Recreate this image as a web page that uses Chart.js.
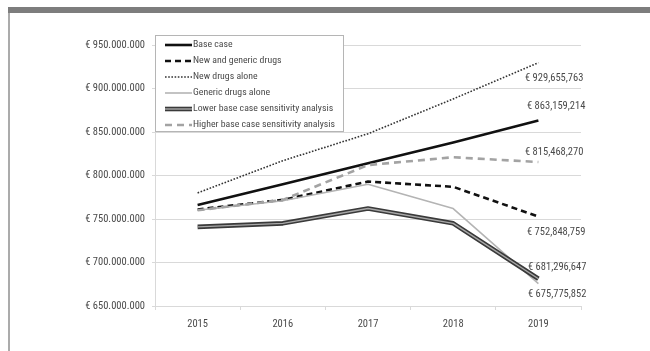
<!DOCTYPE html>
<html>
<head>
<meta charset="utf-8">
<script src="https://cdn.jsdelivr.net/npm/chart.js@4/dist/chart.umd.min.js"></script>
<style>
  html, body { margin: 0; padding: 0; background: #fff; }
  #wrap { position: relative; width: 650px; height: 351px; overflow: hidden; }
  #topbar { position: absolute; left: 8px; top: 7px; width: 642px; height: 6px; background: #7d7d7d; }
  #leftbar { position: absolute; left: 8px; top: 13px; width: 1.5px; height: 338px; background: #ababab; }
  canvas { position: absolute; left: 0; top: 0; }
</style>
</head>
<body>
<div id="wrap">
  <div id="topbar"></div>
  <div id="leftbar"></div>
  <canvas id="c" width="650" height="351"></canvas>
</div>
<script>
// Yearly projected expenditure (euros) per scenario
const years = ['2015', '2016', '2017', '2018', '2019'];
const baseCase          = [766e6, 790e6, 814e6, 838e6, 863159214];
const newAndGeneric     = [761e6, 772e6, 793e6, 787e6, 752848759];
const newDrugsAlone     = [780e6, 817e6, 848e6, 888e6, 929655763];
const genericAlone      = [760e6, 771e6, 790e6, 762e6, 675775852];
const lowerSensitivity  = [741e6, 745e6, 762e6, 745e6, 681296647];
const higherSensitivity = [760e6, 772e6, 812e6, 821e6, 815468270];

// Value axis range
const yMin = 650e6, yMax = 950e6, yStep = 50e6;

const FAMILY = "'Roboto Condensed', Roboto, sans-serif";
const STRETCH = 'condensed';
const TEXT = '#4a4a4a';
const GRID = '#d9d9d9';
const fontStr = size => STRETCH + ' normal ' + size + 'px ' + FAMILY;

function dotted(v) {
  return '€ ' + Math.round(v).toString().replace(/\B(?=(\d{3})+(?!\d))/g, '.');
}
function commas(v) {
  return '€ ' + Math.round(v).toString().replace(/\B(?=(\d{3})+(?!\d))/g, ',');
}

// endLabel: offset of the right edge of the value text from the last point
const datasets = [
  { label: 'Base case', data: baseCase, borderColor: '#111', borderWidth: 2.6,
    endLabel: { dx: 47, dy: -14 } },
  { label: 'New and generic drugs', data: newAndGeneric, borderColor: '#111', borderWidth: 2.6,
    borderDash: [6, 4], endLabel: { dx: 47, dy: 16 } },
  { label: 'New drugs alone', data: newDrugsAlone, borderColor: '#333', borderWidth: 1.6,
    borderDash: [1.6, 1.6], endLabel: { dx: 45, dy: 16 } },
  { label: 'Generic drugs alone', data: genericAlone, borderColor: '#b4b4b4', borderWidth: 1.6,
    endLabel: { dx: 48, dy: 11 } },
  { label: 'Lower base case sensitivity analysis', data: lowerSensitivity, borderColor: '#3a3a3a',
    borderWidth: 4.6, double: true, endLabel: { dx: 48, dy: -11 } },
  { label: '', data: lowerSensitivity, borderColor: '#a8a8a8', borderWidth: 1.4, inner: true },
  { label: 'Higher base case sensitivity analysis', data: higherSensitivity, borderColor: '#a3a3a3',
    borderWidth: 2.6, borderDash: [7, 5], endLabel: { dx: 45, dy: -10 } }
];
datasets.forEach((d, i) => {
  d.order = 20 - i;
  d.pointRadius = 0;
  d.pointHoverRadius = 0;
  d.tension = 0;
  d.fill = false;
  d.borderCapStyle = 'butt';
  d.borderJoinStyle = 'round';
});

// Value labels at the 2019 end of each line
const endLabels = {
  id: 'endLabels',
  afterDatasetsDraw(chart) {
    const ctx = chart.ctx;
    ctx.save();
    ctx.font = fontStr(10.5);
    ctx.fillStyle = TEXT;
    ctx.textAlign = 'right';
    ctx.textBaseline = 'middle';
    chart.data.datasets.forEach((ds, i) => {
      if (!ds.endLabel) return;
      const meta = chart.getDatasetMeta(i);
      const pt = meta.data[meta.data.length - 1];
      ctx.fillText(commas(ds.data[ds.data.length - 1]), pt.x + ds.endLabel.dx, pt.y + ds.endLabel.dy);
    });
    ctx.restore();
  }
};

// Boxed legend in the upper left of the plot
const boxLegend = {
  id: 'boxLegend',
  afterDraw(chart) {
    const ctx = chart.ctx;
    const x0 = 155.5, y0 = 35.5, w = 188, h = 96;
    ctx.save();
    ctx.fillStyle = '#fff';
    ctx.fillRect(x0, y0, w, h);
    ctx.strokeStyle = '#b5b5b5';
    ctx.lineWidth = 1;
    ctx.strokeRect(x0, y0, w, h);
    ctx.font = fontStr(9.8);
    ctx.textBaseline = 'middle';
    ctx.textAlign = 'left';
    let row = 0;
    chart.data.datasets.forEach(ds => {
      if (ds.inner) return;
      const y = 45 + row * 16;
      const sx0 = 165, sx1 = 192;
      const seg = (color, width, dash) => {
        ctx.beginPath();
        ctx.setLineDash(dash || []);
        ctx.strokeStyle = color;
        ctx.lineWidth = width;
        ctx.lineCap = 'butt';
        ctx.moveTo(sx0, y);
        ctx.lineTo(sx1, y);
        ctx.stroke();
      };
      seg(ds.borderColor, ds.borderWidth, ds.borderDash);
      if (ds.double) seg('#a8a8a8', 1.4);
      ctx.setLineDash([]);
      ctx.fillStyle = TEXT;
      ctx.fillText(ds.label, 193, y);
      row++;
    });
    ctx.restore();
  }
};

const tickFont = { family: FAMILY, style: STRETCH, weight: 'normal', size: 10.5 };

new Chart(document.getElementById('c'), {
  type: 'line',
  data: { labels: years, datasets },
  plugins: [endLabels, boxLegend],
  options: {
    responsive: false,
    animation: false,
    events: [],
    layout: { padding: { left: 0, right: 69, top: 45, bottom: 0 } },
    plugins: { legend: { display: false }, tooltip: { enabled: false } },
    scales: {
      x: {
        offset: true,
        grid: { offset: true, drawOnChartArea: false, drawTicks: true, tickLength: 4, color: GRID },
        border: { display: true, color: GRID, width: 1 },
        ticks: { color: TEXT, font: tickFont, padding: 8, maxRotation: 0 },
        afterFit(scale) { scale.height = 45; }
      },
      y: {
        min: yMin, max: yMax,
        grid: { color: GRID, lineWidth: 1, drawTicks: true, tickLength: 3 },
        border: { display: true, color: GRID, width: 1 },
        ticks: { stepSize: yStep, color: TEXT, font: tickFont, padding: 7,
                 callback: v => dotted(v) },
        afterFit(scale) { scale.width = 155; }
      }
    }
  }
});
</script>
</body>
</html>
